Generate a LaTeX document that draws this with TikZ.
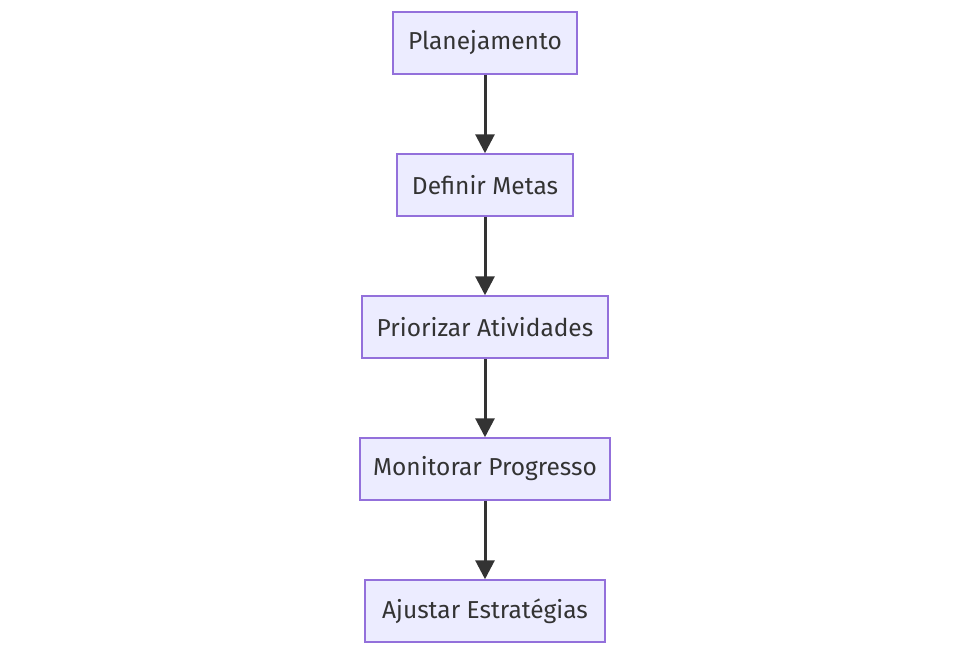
\documentclass[tikz,border=0pt]{standalone}
\usepackage{fontspec}
\setmainfont{Fira Sans}
\usepackage{tikz}
\usetikzlibrary{arrows.meta}
\definecolor{FlowFill}{HTML}{ECECFF}
\definecolor{FlowLine}{HTML}{9370DB}
\definecolor{FlowArrow}{HTML}{333333}
\definecolor{FlowText}{HTML}{333333}
\newcommand{\flowfont}{\fontsize{24.5}{29}\selectfont}

\begin{document}
\begin{tikzpicture}[x=1pt,y=-1pt,
  stepbox/.style={draw=FlowLine,fill=FlowFill,line width=1.5pt,minimum height=62pt,
    inner sep=0pt,text=FlowText,font=\flowfont},
  flowarrow/.style={draw=FlowArrow,line width=3pt,-{Triangle[length=19pt,width=19pt]}}]
\path[use as bounding box] (0,0) rectangle (970,656);
\fill[white] (0,0) rectangle (970,656);
\node[stepbox,minimum width=184pt] (plan) at (485,43) {Planejamento};
\node[stepbox,minimum width=176pt] (metas) at (485,185) {Definir Metas};
\node[stepbox,minimum width=246pt] (prior) at (485,327) {Priorizar Atividades};
\node[stepbox,minimum width=250pt] (monit) at (485,469) {Monitorar Progresso};
\node[stepbox,minimum width=240pt] (ajust) at (485,611) {Ajustar Estratégias};
\draw[flowarrow] (plan) -- (metas);
\draw[flowarrow] (metas) -- (prior);
\draw[flowarrow] (prior) -- (monit);
\draw[flowarrow] (monit) -- (ajust);
\end{tikzpicture}
\end{document}
